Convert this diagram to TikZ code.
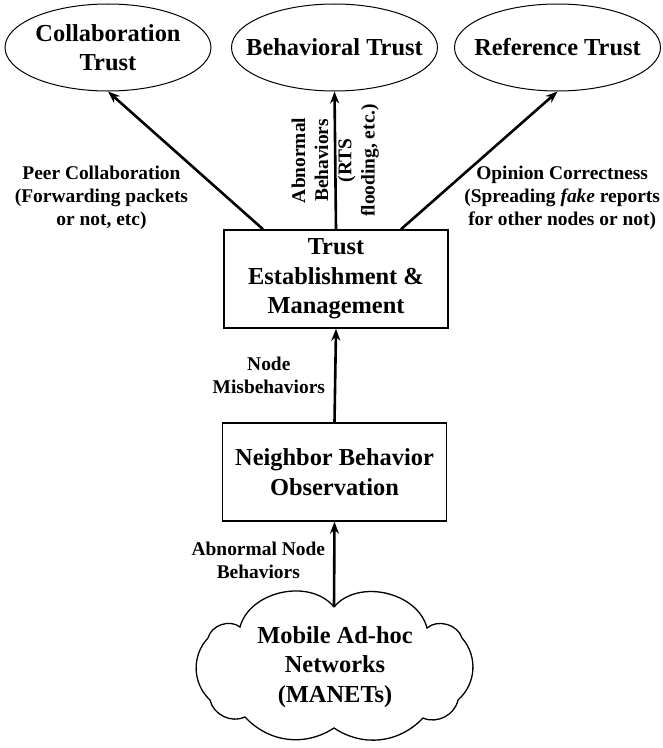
\documentclass[tikz,border=0pt]{standalone}
\usepackage{fontspec}
\setmainfont{Liberation Serif}
\usepackage{tikz}
\usetikzlibrary{arrows,arrows.meta,shapes,calc,positioning}
\newcommand{\bigtxt}{\fontsize{24.5}{29.5}\selectfont\bfseries}
\newcommand{\smalltxt}{\fontsize{19.5}{23.3}\selectfont\bfseries}
\tikzset{%
trust/.style={draw, ellipse, line width=1bp, minimum width=206bp, minimum height=87bp,
  inner xsep=-17bp, inner ysep=0pt, align=center, font=\bigtxt},
block/.style={draw, rectangle, line width=1.5bp, minimum width=224bp, minimum height=98bp,
  inner sep=0pt, align=center, font=\bigtxt},
flow/.style={-{Stealth[length=12bp,width=9bp]}, line width=2.6bp},
lbl/.style={align=center, font=\smalltxt, inner sep=0pt}
}
\begin{document}
\begin{tikzpicture}[x=1bp,y=-1bp]
\useasboundingbox (0,0) rectangle (663,748);

% the three kinds of trust
\node[trust] (collab) at (108,47.5) {Collaboration\\Trust};
\node[trust] (behav) at (334.5,47.5) {Behavioral Trust};
\node[trust] (refer) at (557.5,47.5) {Reference Trust};

% processing boxes
\node[block] (tem) at (336,279) {Trust\\Establishment \&\\Management};
\node[block] (nbo) at (334.5,472) {Neighbor Behavior\\Observation};

% the network, puffs drawn by hand
\node[align=center, font=\bigtxt] (manet) at (335,667) {Mobile Ad-hoc\\Networks\\(MANETs)};
\draw[line width=1.3bp] (334,607) coordinate (valley)
  to[bend left=63] (427,628) to[bend left=57] (462,638) to[bend left=45] (458,700)
  to[bend left=51] (423,718) to[bend left=40] (334,728) to[bend left=40] (245,717)
  to[bend left=51] (210,700) to[bend left=45] (208,638) to[bend left=57] (240,627)
  to[bend left=63] (valley);

\draw[flow] ([xshift=-73bp]tem.north) -- (collab.south)
  node[lbl, pos=0.23, anchor=east, xshift=-38bp] {Peer Collaboration\\(Forwarding packets\\or not, etc)};
\draw[flow] (tem.north) -- (behav.south)
  node[lbl, midway, rotate=90] {Abnormal\\Behaviors\\(RTS\\flooding, etc.)};
\draw[flow] ([xshift=65bp]tem.north) -- (refer.south)
  node[lbl, pos=0.23, anchor=west, xshift=26bp] {Opinion Correctness\\(Spreading \textit{fake} reports\\for other nodes or not)};

\draw[flow] (nbo.north) -- (tem.south)
  node[lbl, midway, anchor=east, xshift=-9bp] {Node\\Misbehaviors};
\draw[flow] (valley) -- (nbo.south)
  node[lbl, midway, anchor=east, xshift=-8bp, yshift=4bp] {Abnormal Node\\Behaviors};

%\draw[red] (0,0) grid[step=50] (663,748);
\end{tikzpicture}
\end{document}
